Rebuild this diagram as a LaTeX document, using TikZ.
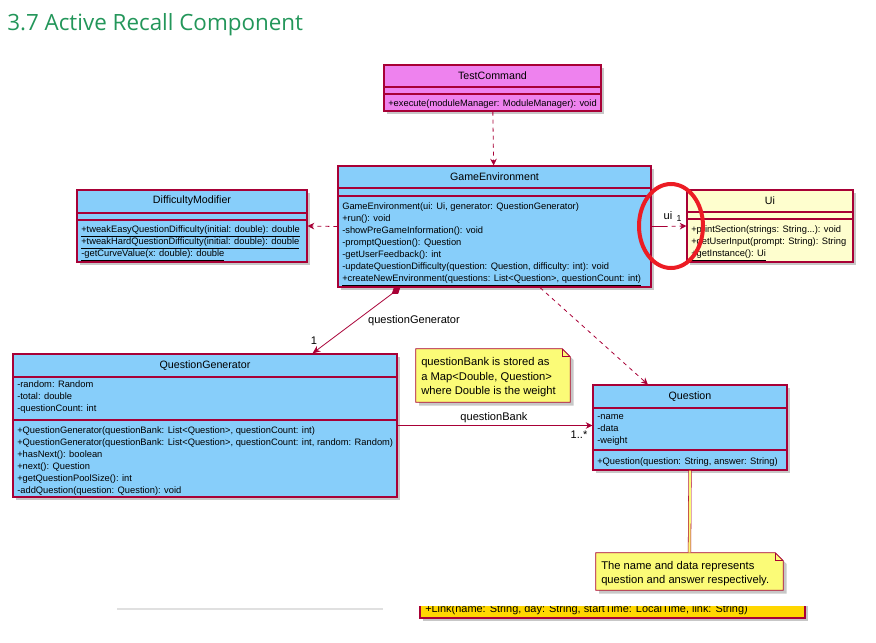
\documentclass[tikz,border=0pt]{standalone}
\usepackage{fontspec}
\setmainfont{Liberation Sans}
\newfontfamily\titlefont{Open Sans}
\usetikzlibrary{arrows.meta,positioning,fit,calc,shadows,shapes.geometric}
\definecolor{cBorder}{HTML}{A80036}
\definecolor{cClass}{HTML}{87CEFA}
\definecolor{cCmd}{HTML}{EE82EE}
\definecolor{cUi}{HTML}{FEFECE}
\definecolor{cNote}{HTML}{FBFB77}
\definecolor{cBar}{HTML}{FFD700}
\definecolor{cTitle}{HTML}{23965A}
\definecolor{cMark}{HTML}{EC1C24}
\tikzset{
  cls/.style  ={rectangle, draw=cBorder, line width=0.9pt, fill=cClass, inner sep=0pt,
                drop shadow={shadow xshift=2.5pt, shadow yshift=-2.5pt, fill=black, opacity=0.22}},
  sep/.style  ={draw=cBorder, line width=0.8pt},
  hdr/.style  ={font=\fontsize{8}{9}\selectfont, inner sep=0pt},
  mem/.style  ={font=\fontsize{7}{9}\selectfont, align=left, inner sep=0pt, anchor=north west},
  fl/.style   ={-{Stealth[length=5pt,width=5pt]}, draw=cBorder, line width=0.6pt},
  dep/.style  ={fl, dash pattern=on 3pt off 3pt},
  lbl/.style  ={font=\fontsize{8.3}{9}\selectfont, inner sep=0pt},
  notebox/.style={draw=none, inner sep=0pt},
  noteline/.style={draw=cBorder, fill=cNote, line width=0.6pt,
                drop shadow={shadow xshift=2.5pt, shadow yshift=-2.5pt, fill=black, opacity=0.22}},
  notetxt/.style={font=\fontsize{8.4}{10.8}\selectfont, align=left, inner sep=0pt, anchor=north west},
  ringmark/.style ={ellipse, draw=cMark, line width=3pt, minimum width=48pt, minimum height=63pt},
}
\begin{document}
\begin{tikzpicture}[x=0.75pt,y=-0.75pt]
  \useasboundingbox (0,0) rectangle (876,643);
  \node[anchor=base west, inner sep=0pt, text=cTitle, font=\titlefont\fontsize{16.8}{18}\selectfont]
    (title) at (7,30) {3.7 Active Recall Component};

  % classes
  \node[cls, fill=cCmd, fit={(384,65) (601,111)}] (cmd) {};
  \node[hdr] at (492.5,76) {TestCommand};
  \draw[sep] (384,87) -- (601,87) (384,94) -- (601,94);
  \node[mem] at (388,99) {+execute(moduleManager: ModuleManager): void};

  \node[cls, fit={(338,166) (651,287)}] (game) {};
  \node[hdr] at (494.5,177) {GameEnvironment};
  \draw[sep] (338,188) -- (651,188) (338,196) -- (651,196);
  \node[mem] at (342,202) {GameEnvironment(ui: Ui, generator: QuestionGenerator)\\
    +run(): void\\
    -showPreGameInformation(): void\\
    -promptQuestion(): Question\\
    -getUserFeedback(): int\\
    -updateQuestionDifficulty(question: Question, difficulty: int): void\\
    \underline{+createNewEnvironment(questions: List<Question>, questionCount: int)}};

  \node[cls, fit={(77,190) (307,262)}] (diff) {};
  \node[hdr] at (192,201) {DifficultyModifier};
  \draw[sep] (77,213) -- (307,213) (77,220) -- (307,220);
  \node[mem] at (81,225.5) {\underline{+tweakEasyQuestionDifficulty(initial: double): double}\\
    \underline{+tweakHardQuestionDifficulty(initial: double): double}\\
    \underline{-getCurveValue(x: double): double}};

  \node[cls, fill=cUi, fit={(687,190) (853,262)}] (ui) {};
  \node[hdr] at (770,201) {Ui};
  \draw[sep] (687,212) -- (853,212) (687,219) -- (853,219);
  \node[mem] at (691,225.5) {+printSection(strings: String...): void\\
    +getUserInput(prompt: String): String\\
    \underline{+getInstance(): Ui}};

  \node[cls, fit={(13,354) (397,497)}] (qgen) {};
  \node[hdr] at (205,366) {QuestionGenerator};
  \draw[sep] (13,377) -- (397,377) (13,420) -- (397,420);
  \node[mem] at (17,380.5) {-random: Random\\ -total: double\\ -questionCount: int};
  \node[mem] at (17,426.5) {+QuestionGenerator(questionBank: List<Question>, questionCount: int)\\
    +QuestionGenerator(questionBank: List<Question>, questionCount: int, random: Random)\\
    +hasNext(): boolean\\
    +next(): Question\\
    +getQuestionPoolSize(): int\\
    -addQuestion(question: Question): void};

  \node[cls, fit={(593,385) (787,470)}] (quest) {};
  \node[hdr] at (690,397) {Question};
  \draw[sep] (593,408) -- (787,408) (593,450) -- (787,450);
  \node[mem] at (597,414.5) {-name\\ -data\\ -weight};
  \node[mem] at (597,457) {+Question(question: String, answer: String)};

  % notes
  \node[notebox, fit={(416,349) (570,402)}] (bank) {};
  \draw[noteline] (bank.north west) -- ($(bank.north east)+(-8,0)$) -- ($(bank.north east)+(0,8)$)
    -- (bank.south east) -- (bank.south west) -- cycle;
  \draw[cBorder, line width=0.6pt] ($(bank.north east)+(-8,0)$) -- ($(bank.north east)+(-8,8)$) -- ($(bank.north east)+(0,8)$);
  \node[notetxt] at (421,357.5) {questionBank is stored as\\ a Map<Double, Question>\\ where Double is the weight};

  \node[notebox, fit={(596,553) (783,590)}] (meaning) {};
  \draw[noteline] (meaning.north west) -- ($(meaning.north east)+(-8,0)$) -- ($(meaning.north east)+(0,8)$)
    -- (meaning.south east) -- (meaning.south west) -- cycle;
  \draw[cBorder, line width=0.6pt] ($(meaning.north east)+(-8,0)$) -- ($(meaning.north east)+(-8,8)$) -- ($(meaning.north east)+(0,8)$);
  \node[notetxt] at (601,561) {The name and data represents\\ question and answer respectively.};

  % connectors
  \draw[dep] (cmd) -- (game);
  \draw[dep] (game.west) -- (diff.east);
  \draw[cBorder, line width=0.6pt] (game.east) -- ++(12,0) coordinate (uistub);
  \draw[dep] (uistub) -- (ui.west);
  \node[lbl] at (668,216) {ui};
  \node[lbl, font=\fontsize{6.5}{7}\selectfont] at (679,219) {1};
  \draw[fl, {Diamond[length=8pt,width=5.5pt,fill=cBorder]}-{Stealth[length=6pt,width=5pt]}]
    ($(game.south west)!0.2!(game.south east)$) -- ($(qgen.north west)!0.779!(qgen.north east)$);
  \node[lbl] at (414,321) {questionGenerator};
  \node[lbl] at (314,341) {1};
  \draw[dep] ($(game.south west)!0.645!(game.south east)$) -- ($(quest.north west)!0.284!(quest.north east)$);
  \draw[fl] (qgen.east) -- (quest.west |- qgen.east);
  \node[lbl] at (494,418) {questionBank};
  \node[lbl] at (579,435) {1..*};
  \draw[draw=cBorder, line width=0.4pt, double=cNote, double distance=1.6pt] (quest.south) -- (meaning.north);

  % cut-off parts at the bottom
  \draw[black!12, line width=0.8pt] (117,609) -- (383,609);
  \begin{scope}
    \clip (410,606.5) rectangle (820,640);
    \node[cls, fill=cBar, fit={(420,585) (805,618)}] (linkbar) {};
    \node[anchor=base west, inner sep=0pt, font=\fontsize{8.2}{9}\selectfont] at (425,612.5)
      {+Link(name: String, day: String, startTime: LocalTime, link: String)};
  \end{scope}

  \node[ringmark] (ring) at (671,226) {};
\end{tikzpicture}
\end{document}
